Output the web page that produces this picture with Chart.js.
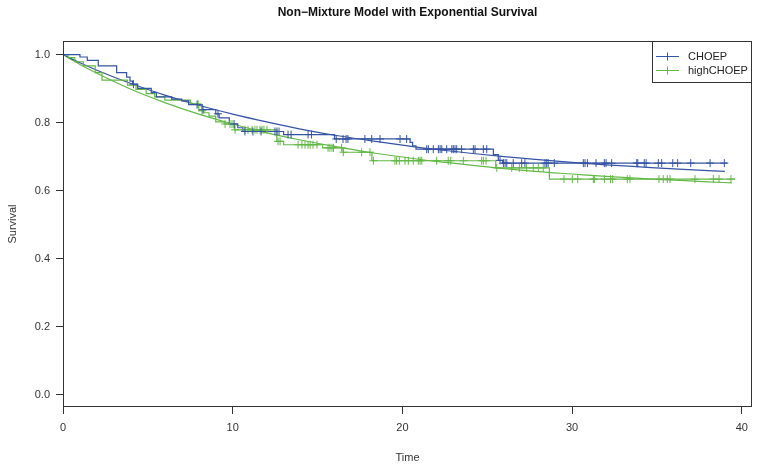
<!DOCTYPE html>
<html>
<head>
<meta charset="utf-8">
<script src="https://cdn.jsdelivr.net/npm/chart.js@4.4.0/dist/chart.umd.min.js"></script>
<style>
html,body{margin:0;padding:0;background:#fff;}
canvas{display:block;}
</style>
</head>
<body>
<canvas id="c" width="757" height="464"></canvas>
<script>
// ---- data ----
const xTicks = [0, 10, 20, 30, 40];
const yTicks = [0.0, 0.2, 0.4, 0.6, 0.8, 1.0];
const seriesNames = ["CHOEP", "highCHOEP"];

// Kaplan-Meier steps, CHOEP
const kmChoepTime = [0, 1.0, 1.43, 2.08, 3.16, 3.75, 3.95, 4.1, 4.4, 5.2, 5.5, 6.4, 7.0, 7.4, 8.2, 9.0, 9.2, 9.8, 10.3, 10.6, 13.0, 16.0, 20.45, 20.6, 20.8, 25.36, 25.65, 25.9, 39.15];
const kmChoepSurv = [1.0, 0.993, 0.983, 0.967, 0.947, 0.934, 0.922, 0.913, 0.901, 0.888, 0.876, 0.869, 0.864, 0.853, 0.838, 0.826, 0.814, 0.796, 0.785, 0.774, 0.765, 0.752, 0.742, 0.732, 0.722, 0.706, 0.689, 0.681, 0.681];
// censoring times, CHOEP
const censChoepTime = [4.15, 7.90, 8.25, 9.13, 10.08, 10.72, 11.19, 11.67, 12.49, 12.61, 12.73, 13.26, 13.44, 14.44, 14.64, 16.1, 16.50, 16.68, 16.79, 17.79, 18.19, 18.68, 19.86, 20.25, 21.43, 21.53, 21.82, 22.12, 22.22, 22.32, 22.61, 22.91, 23.00, 23.10, 23.20, 23.49, 24.18, 24.28, 24.77, 24.97, 25.75, 25.95, 26.05, 26.15, 26.53, 27.03, 27.22, 28.40, 28.50, 28.59, 28.95, 30.66, 30.76, 30.90, 31.41, 31.90, 32.00, 32.33, 33.81, 33.87, 34.25, 34.36, 35.08, 35.28, 35.93, 36.22, 36.99, 38.13, 38.97];

// Kaplan-Meier steps, highCHOEP
const kmHighTime = [0, 0.3, 0.7, 1.2, 1.9, 2.3, 3.8, 4.3, 4.9, 5.4, 6.0, 7.5, 8.0, 8.3, 8.6, 9.0, 9.5, 10.1, 12.6, 13.0, 15.3, 16.5, 18.2, 25.5, 28.66, 39.6];
const kmHighSurv = [1.0, 0.991, 0.979, 0.967, 0.947, 0.925, 0.910, 0.898, 0.885, 0.876, 0.866, 0.855, 0.835, 0.829, 0.819, 0.802, 0.796, 0.779, 0.745, 0.735, 0.726, 0.713, 0.688, 0.667, 0.634, 0.634];
// censoring times, highCHOEP
const censHighTime = [7.96, 8.19, 9.55, 9.84, 9.96, 10.14, 10.72, 10.90, 11.14, 11.31, 11.43, 11.61, 11.73, 11.84, 12.02, 12.67, 12.79, 13.85, 14.08, 14.26, 14.44, 14.56, 14.73, 14.97, 15.62, 15.73, 15.85, 15.94, 16.42, 16.52, 17.60, 18.09, 18.29, 19.56, 19.66, 19.82, 20.15, 20.35, 20.64, 20.94, 21.04, 21.14, 22.02, 22.70, 22.85, 23.59, 24.67, 24.77, 24.93, 25.56, 26.44, 26.89, 27.32, 27.71, 28.01, 28.30, 29.52, 30.01, 30.33, 31.25, 31.31, 31.90, 32.27, 32.39, 33.25, 33.41, 35.12, 35.37, 35.61, 35.77, 37.24, 38.32, 38.66, 39.36];

// fitted non-mixture exponential curves
const fitChoepTime = [0, 1, 2, 4, 6, 8, 10, 12, 14, 16, 18, 20, 22, 24, 26, 28, 30, 32, 34, 36, 38, 39.0];
const fitChoepSurv = [1.000, 0.976, 0.954, 0.915, 0.881, 0.851, 0.825, 0.802, 0.781, 0.763, 0.748, 0.734, 0.721, 0.710, 0.700, 0.691, 0.683, 0.676, 0.670, 0.664, 0.659, 0.657];
const fitHighTime = [0, 1, 2, 4, 6, 8, 10, 12, 14, 16, 18, 20, 22, 24, 26, 28, 30, 32, 34, 36, 38, 39.4];
const fitHighSurv = [1.000, 0.971, 0.945, 0.898, 0.859, 0.825, 0.796, 0.770, 0.749, 0.730, 0.713, 0.699, 0.686, 0.675, 0.665, 0.656, 0.649, 0.642, 0.636, 0.631, 0.626, 0.623];

// ---- styling ----
const BLUE = '#3553a4';
const GREEN = '#63b946';
const FONT = '"Liberation Sans", Arial, Helvetica, sans-serif';

function pairs(t, s) { return t.map((v, i) => ({x: v, y: s[i]})); }
function kmAt(t, s, x) {
  let v = s[0];
  for (let i = 0; i < t.length; i++) { if (t[i] <= x) v = s[i]; }
  return v;
}
function censPoints(ct, t, s) { return ct.map(x => ({x: x, y: kmAt(t, s, x)})); }

const framePlugin = {
  id: 'frame',
  afterDraw(chart) {
    const ctx = chart.ctx, a = chart.chartArea;
    ctx.save();
    ctx.strokeStyle = '#333';
    ctx.lineWidth = 1;
    ctx.strokeRect(Math.round(a.left) + 0.5, Math.round(a.top) + 0.5, Math.round(a.right - a.left) - 1, Math.round(a.bottom - a.top) - 1);
    // title
    ctx.fillStyle = '#111';
    ctx.textAlign = 'center';
    ctx.textBaseline = 'middle';
    ctx.font = 'bold 12px ' + FONT;
    ctx.fillText('Non\u2212Mixture Model with Exponential Survival', (a.left + a.right) / 2, 13);
    // axis titles
    ctx.font = '11px ' + FONT;
    ctx.fillStyle = '#333';
    ctx.fillText('Time', (a.left + a.right) / 2, 458);
    ctx.save();
    ctx.translate(13, (a.top + a.bottom) / 2);
    ctx.rotate(-Math.PI / 2);
    ctx.fillText('Survival', 0, 0);
    ctx.restore();
    // legend
    const lx = 652, ly = Math.round(a.top), lw = Math.round(a.right) - 652, lh = 42;
    ctx.fillStyle = '#fff';
    ctx.fillRect(lx, ly, lw, lh);
    ctx.strokeStyle = '#333';
    ctx.strokeRect(lx + 0.5, ly + 0.5, lw - 1, lh - 1);
    const cols = [BLUE, GREEN];
    const rows = [ly + 15, ly + 29];
    seriesNames.forEach((n, i) => {
      const y = rows[i] + 0.5;
      ctx.strokeStyle = cols[i];
      ctx.lineWidth = 1;
      ctx.beginPath();
      ctx.moveTo(656, y); ctx.lineTo(679, y);
      ctx.moveTo(667.5, y - 4); ctx.lineTo(667.5, y + 4);
      ctx.stroke();
      ctx.fillStyle = '#222';
      ctx.textAlign = 'left';
      ctx.textBaseline = 'middle';
      ctx.font = '11px ' + FONT;
      ctx.fillText(n, 688, rows[i] + 1);
    });
    ctx.restore();
  }
};

const lineBase = {pointRadius: 0, borderWidth: 1.2, fill: false};
const crossBase = {type: 'scatter', pointStyle: 'cross', pointRadius: 4, pointBorderWidth: 1, showLine: false};

new Chart(document.getElementById('c'), {
  type: 'line',
  data: {
    datasets: [
      Object.assign({}, crossBase, {label: 'CHOEP censored', data: censPoints(censChoepTime, kmChoepTime, kmChoepSurv), borderColor: BLUE, pointBorderColor: BLUE}),
      Object.assign({}, crossBase, {label: 'highCHOEP censored', data: censPoints(censHighTime, kmHighTime, kmHighSurv), borderColor: GREEN, pointBorderColor: GREEN}),
      Object.assign({}, lineBase, {label: 'CHOEP KM', data: pairs(kmChoepTime, kmChoepSurv), borderColor: BLUE, stepped: 'before'}),
      Object.assign({}, lineBase, {label: 'highCHOEP KM', data: pairs(kmHighTime, kmHighSurv), borderColor: GREEN, stepped: 'before'}),
      Object.assign({}, lineBase, {label: 'CHOEP fit', data: pairs(fitChoepTime, fitChoepSurv), borderColor: BLUE, cubicInterpolationMode: 'monotone'}),
      Object.assign({}, lineBase, {label: 'highCHOEP fit', data: pairs(fitHighTime, fitHighSurv), borderColor: GREEN, cubicInterpolationMode: 'monotone'})
    ]
  },
  options: {
    responsive: false,
    animation: false,
    layout: {padding: {top: 41, right: 5, left: 0, bottom: 0}},
    plugins: {legend: {display: false}, tooltip: {enabled: false}, title: {display: false}},
    scales: {
      x: {
        type: 'linear', min: 0, max: 40.6,
        afterBuildTicks: s => { s.ticks = xTicks.map(v => ({value: v})); },
        afterFit: s => { s.height = 57; },
        grid: {drawOnChartArea: false, drawTicks: true, tickLength: 7, color: '#333', lineWidth: 1},
        border: {display: false},
        ticks: {color: '#333', font: {family: FONT, size: 11}, padding: 7, maxRotation: 0, autoSkip: false, callback: v => String(v)}
      },
      y: {
        type: 'linear', min: -0.036, max: 1.04,
        afterBuildTicks: s => { s.ticks = yTicks.map(v => ({value: v})); },
        afterFit: s => { s.width = 63; },
        grid: {drawOnChartArea: false, drawTicks: true, tickLength: 7, color: '#333', lineWidth: 1},
        border: {display: false},
        ticks: {color: '#333', font: {family: FONT, size: 11}, padding: 6, autoSkip: false, callback: v => v.toFixed(1)}
      }
    }
  },
  plugins: [framePlugin]
});
</script>
</body>
</html>
